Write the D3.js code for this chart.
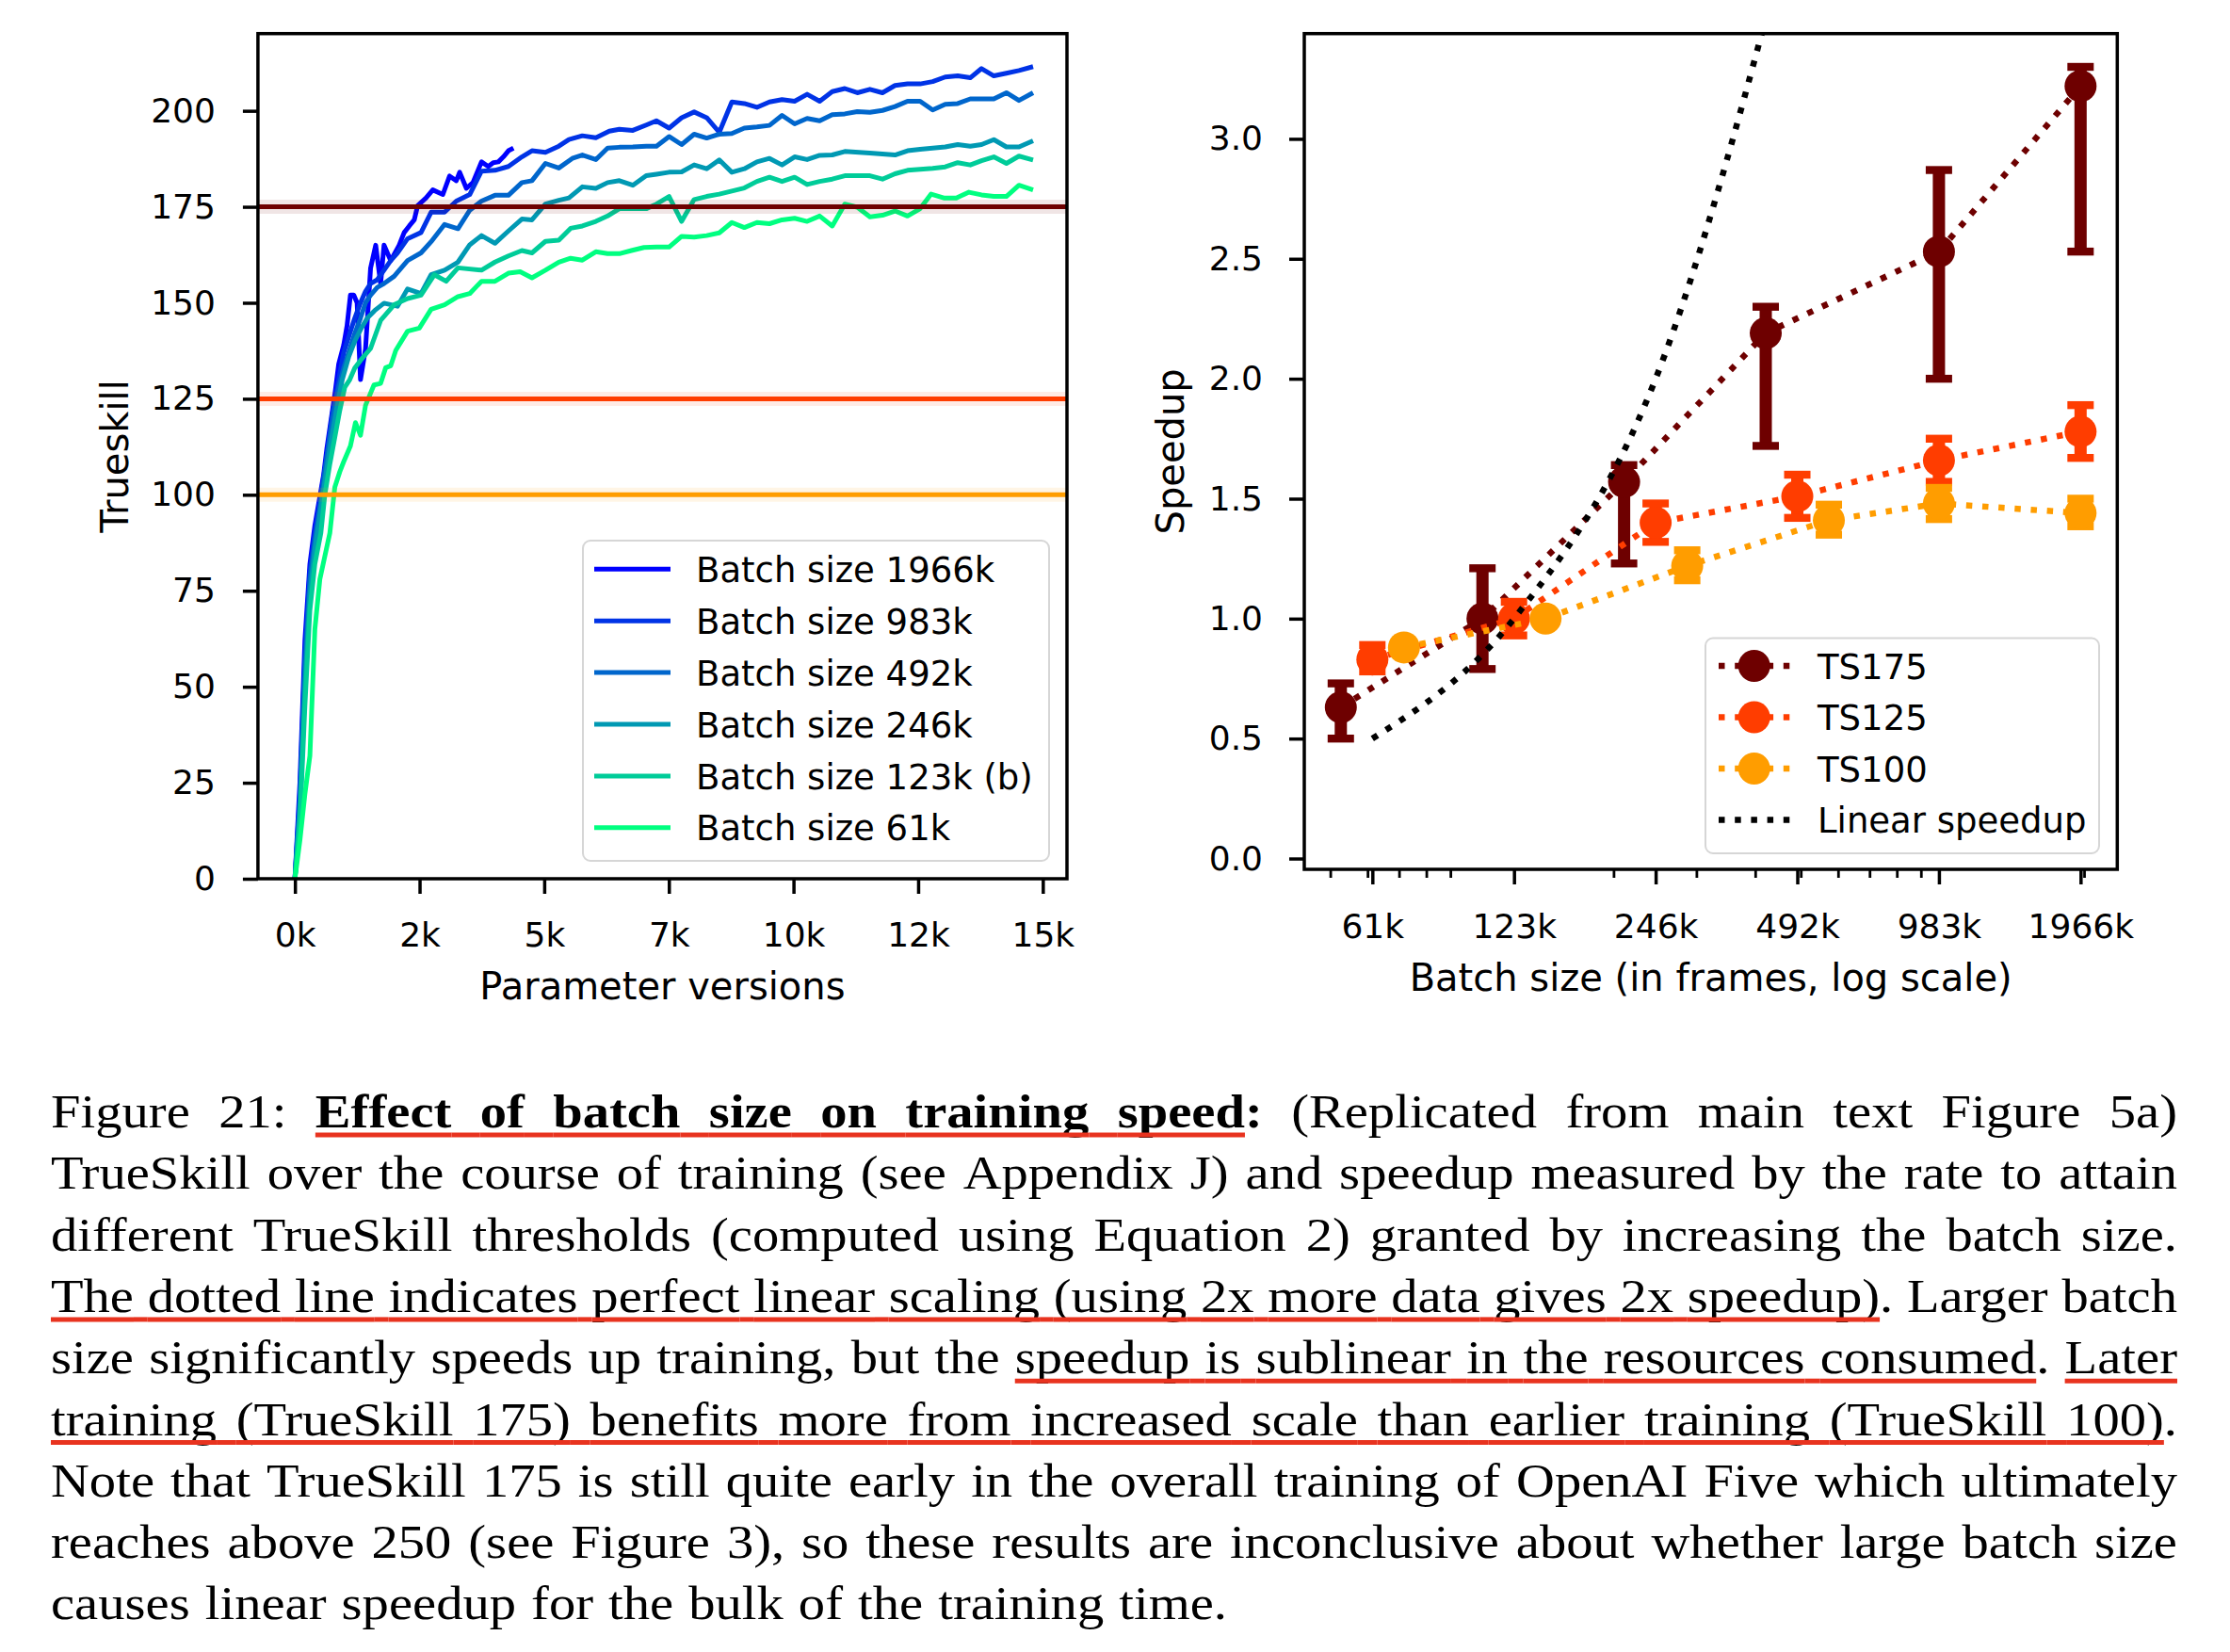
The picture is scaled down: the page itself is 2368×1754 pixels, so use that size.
<!DOCTYPE html>
<html><head><meta charset="utf-8">
<script src="https://cdn.jsdelivr.net/npm/d3@7"></script>
<style>
html,body{margin:0;padding:0;background:#fff;}
svg{display:block;}
</style></head>
<body>
<svg id="fig" width="2368" height="1754"></svg>
<script>
// ---------------- DATA ----------------
// Left panel: TrueSkill vs parameter versions, one [version, trueskill] list per batch size
const batchLabels = ["Batch size 1966k","Batch size 983k","Batch size 492k","Batch size 246k","Batch size 123k (b)","Batch size 61k"];
const batchColors = ["#0000ff","#0033e6","#0066cc","#0099b3","#00cc99","#00ff80"];
const run1966k = [[0,0],[100,25],[200,62],[300,82],[400,92],[506,100],[573,105],[640,112],[708,118],[809,127],[877,134],[978,139],[1045,144],[1113,152],[1180,152],[1247,150],[1315,130],[1416,138],[1517,159],[1620,165],[1719,155],[1787,165],[1922,161],[2090,165],[2191,168.3],[2293,170],[2394,171.6],[2461,175.3],[2630,177.3],[2765,179.4],[2967,178.2],[3102,183],[3237,181.8],[3304,184],[3439,179.8],[3574,181.4],[3742,186.7],[3877,185.5],[3978,186.5],[4080,186.7],[4181,188],[4282,189.6],[4383,190.3]];
const run983k = [[0,0],[100,22],[200,58],[300,80],[400,90],[520,100],[640,110],[750,121],[877,130],[978,137],[1100,142],[1200,146],[1315,150],[1416,153],[1517,155],[1652,156],[1787,158.5],[1922,161],[2057,163],[2259,166.7],[2529,168.3],[2731,173.6],[3001,173.6],[3237,176.5],[3506,178.2],[3742,184.3],[4012,184.5],[4282,185.5],[4552,188],[4754,189.6],[5024,189.2],[5293,190.8],[5496,192.5],[5765,193.5],[6035,193],[6305,194.7],[6507,195.2],[6777,194.9],[7046,196.3],[7249,197.4],[7505,195.5],[7756,198.2],[8007,199.7],[8259,198.2],[8511,194.4],[8763,202.3],[9014,201.9],[9266,200.9],[9518,202.3],[9770,202.9],[10022,202.5],[10273,204.3],[10525,202.5],[10777,205],[11029,205.8],[11280,204.7],[11532,205.6],[11784,204.7],[12036,206.6],[12287,207],[12539,207],[12791,207.6],[13043,208.8],[13294,209.1],[13546,208.6],[13771,211],[14018,209.1],[14270,209.8],[14522,210.5],[14805,211.5]];
const run492k = [[0,0],[100,20],[200,55],[300,78],[400,88],[540,100],[640,110],[760,120],[877,128],[978,133],[1100,138],[1200,142],[1315,146],[1416,150],[1517,152],[1652,154],[1787,155],[1989,156.9],[2259,161],[2529,163],[2731,165.9],[3001,170.4],[3270,169.3],[3506,174.1],[3742,176.5],[4012,178],[4282,178],[4552,181.3],[4754,181.8],[5024,186.3],[5293,185.1],[5563,187.6],[5765,188.5],[6035,187.3],[6271,190.3],[6507,190.5],[6777,190.6],[7046,190.8],[7252,190.8],[7504,193.3],[7756,191.2],[8007,193.9],[8259,192.9],[8511,193.9],[8763,194.1],[9014,195.5],[9266,195.8],[9518,196.2],[9770,198.8],[10022,196.6],[10273,198],[10525,197.4],[10777,199],[11029,199.2],[11280,199.8],[11532,199.6],[11784,200.1],[12036,201.1],[12287,202.5],[12539,202.5],[12791,200.2],[13043,201.7],[13294,201.9],[13546,203.1],[13771,203.1],[14018,203.1],[14270,204.7],[14522,202.7],[14805,204.7]];
const run246k = [[0,0],[100,18],[200,50],[300,74],[400,86],[560,100],[700,112],[830,122],[950,130],[1080,136],[1200,140],[1315,143],[1450,146],[1600,148],[1787,149.9],[2057,149.1],[2259,153.6],[2529,152.4],[2731,157.3],[3001,158.5],[3270,160.6],[3506,165.1],[3742,167.5],[4012,165.5],[4282,168.7],[4552,171.8],[4754,171.6],[5024,175.7],[5293,176.7],[5496,177.3],[5765,180.2],[6035,179.8],[6271,181.3],[6507,181.8],[6777,180.6],[7046,183.1],[7252,183.5],[7504,184],[7756,184.1],[8007,185.9],[8259,184.9],[8511,187.2],[8763,184],[9014,184.9],[9266,186.7],[9518,187.6],[9770,185.9],[10022,188],[10273,187.3],[10525,188.4],[10777,188.5],[11029,189.4],[11532,189],[12036,188.5],[12287,189.6],[12539,190],[13043,190.6],[13294,191.2],[13546,190.8],[13771,191.2],[14018,192.5],[14270,190.6],[14522,190.6],[14805,192.2]];
const run123k = [[0,0],[100,15],[200,45],[300,70],[400,82],[520,90],[600,100],[700,108],[800,115],[900,122],[1000,128],[1100,130],[1200,133],[1315,135],[1517,138.1],[1719,145.4],[1989,149.5],[2259,151.1],[2529,152],[2798,157.3],[3034,155.6],[3270,159.1],[3742,158.5],[4012,160.6],[4282,162.2],[4552,163.6],[4754,163],[5024,166],[5293,166.3],[5529,169.4],[5765,170],[6035,171.2],[6271,172.6],[6507,174.5],[6777,174.5],[7046,174.5],[7252,175.7],[7504,177.7],[7756,171.2],[8007,176.9],[8259,177.7],[8511,178.3],[8763,179.1],[9014,179.9],[9266,181.6],[9518,182.7],[9770,181.6],[10022,182.7],[10273,180.8],[10525,181.6],[10777,182.2],[11029,183.1],[11532,183.1],[11784,182.2],[12036,183.6],[12287,184.5],[12791,185],[13043,185.4],[13294,186.5],[13546,185.9],[13771,187],[14018,188],[14270,186.3],[14522,188.2],[14805,187.2]];
const run61k = [[0,0],[100,10],[200,22],[300,32],[400,65],[500,78],[600,84],[700,90],[800,102],[900,106],[978,108.6],[1113,112.7],[1214,118.8],[1315,115.5],[1416,123.3],[1585,128.6],[1719,129],[1821,133.1],[1922,133.6],[2023,137.6],[2259,142.6],[2495,143.4],[2731,148.3],[3001,149.5],[3270,151.6],[3506,152.4],[3742,155.6],[4012,155.6],[4282,157.7],[4518,158.1],[4754,156.5],[5024,158.5],[5293,160.6],[5529,161.6],[5765,161.1],[6035,163.3],[6271,162.8],[6507,162.8],[6749,163.6],[7000,164.4],[7252,164.5],[7504,164.5],[7756,167.3],[8007,167.1],[8259,167.5],[8511,168.2],[8763,170.9],[9014,169.6],[9266,170.9],[9518,170.6],[9770,171.6],[10022,172],[10273,171.2],[10525,172.6],[10777,170],[11029,175.7],[11280,174.9],[11532,172.4],[11784,172.8],[12036,173.9],[12287,172.6],[12539,174.5],[12760,178.3],[13014,177.3],[13266,177.3],[13518,178.8],[13771,178.1],[14018,177.7],[14270,177.7],[14522,180.6],[14805,179.4]];
const runs = [run1966k, run983k, run492k, run246k, run123k, run61k];

const trueskillTicks = [0,25,50,75,100,125,150,175,200];
const versionTicks = [0,2500,5000,7500,10000,12500,15000];
const versionTickLabels = ["0k","2k","5k","7k","10k","12k","15k"];
const thresholds = [175,125,100];

// Right panel: speedup vs batch size
const batchSizes = [61440,122880,245760,491520,983040,1966080];
const batchTickLabels = ["61k","123k","246k","492k","983k","1966k"];
const minorBatchTicks = [50000,60000,70000,80000,90000,200000,300000,400000,500000,600000,700000,800000,900000,2000000];
const speedupTicks = [0,0.5,1,1.5,2,2.5,3];
const tsNames = ["TS175","TS125","TS100"];
const tsColors = ["#6e0000","#ff3d00","#ff9d00"];
// plotted (dodged) x positions of each series
const ts175X = [52650,105300,210600,421200,983040,1966080];
const ts125X = [61440,122880,245760,491520,983040,1966080];
const ts100X = [71700,143400,286800,573600,983040,1966080];
const ts175 = [0.63,1.00,1.57,2.19,2.53,3.22];
const ts175Lo = [0.50,0.79,1.23,1.72,2.00,2.53];
const ts175Hi = [0.73,1.21,1.64,2.30,2.87,3.30];
const ts125 = [0.83,1.00,1.40,1.51,1.66,1.78];
const ts125Lo = [0.78,0.93,1.32,1.42,1.57,1.67];
const ts125Hi = [0.89,1.07,1.48,1.60,1.75,1.89];
const ts100 = [0.88,1.00,1.22,1.41,1.48,1.44];
const ts100Lo = [0.87,1.00,1.16,1.35,1.415,1.385];
const ts100Hi = [0.89,1.00,1.285,1.475,1.545,1.50];
const linearX = [61440,122880,245760,491520];
const linearY = [0.5,1,2,4];

// Caption (* toggles bold, _ toggles red underline)
const captionLines = [
 "Figure 21: *_Effect of batch size on training speed_:* (Replicated from main text Figure 5a)",
 "TrueSkill over the course of training (see Appendix J) and speedup measured by the rate to attain",
 "different TrueSkill thresholds (computed using Equation 2) granted by increasing the batch size.",
 "_The dotted line indicates perfect linear scaling (using 2x more data gives 2x speedup)_. Larger batch",
 "size significantly speeds up training, but the _speedup is sublinear in the resources consumed_. _Later",
 "training (TrueSkill 175) benefits more from increased scale than earlier training (TrueSkill 100)_.",
 "Note that TrueSkill 175 is still quite early in the overall training of OpenAI Five which ultimately",
 "reaches above 250 (see Figure 3), so these results are inconclusive about whether large batch size",
 "causes linear speedup for the bulk of the training time."
];

// ---------------- DRAW ----------------
const FONT = "DejaVu Sans";
const svg = d3.select("#fig");
svg.append("rect").attr("width",2368).attr("height",1754).attr("fill","#fff");

function styleAxis(g, fs){
  g.select(".domain").remove();
  g.selectAll(".tick line").attr("stroke","#000").attr("stroke-width",3.5);
  g.selectAll(".tick text").attr("font-family",FONT).attr("font-size",fs).attr("fill","#000");
}

// ----- Left panel -----
const LB = {left:273.9, right:1133, top:35.7, bottom:933};
const xV = d3.scaleLinear().domain([-742,15485]).range([LB.left,LB.right]);
const yT = d3.scaleLinear().domain([0,220.1]).range([LB.bottom,LB.top]);
const gL = svg.append("g");
const lineL = d3.line().x(d=>xV(d[0])).y(d=>yT(d[1]));
runs.forEach((r,i)=>{
  gL.append("path").attr("d",lineL(r)).attr("fill","none")
    .attr("stroke",batchColors[i]).attr("stroke-width",5).attr("stroke-linejoin","round");
});
thresholds.forEach((t,i)=>{
  gL.append("line").attr("x1",LB.left).attr("x2",LB.right).attr("y1",yT(t)).attr("y2",yT(t))
    .attr("stroke",tsColors[i]).attr("stroke-opacity",0.1).attr("stroke-width",15);
  gL.append("line").attr("x1",LB.left).attr("x2",LB.right).attr("y1",yT(t)).attr("y2",yT(t))
    .attr("stroke",tsColors[i]).attr("stroke-width",5);
});
// axes
const axLy = gL.append("g").attr("transform",`translate(${LB.left},0)`)
  .call(d3.axisLeft(yT).tickValues(trueskillTicks).tickSize(16).tickPadding(29));
styleAxis(axLy,36);
const axLx = gL.append("g").attr("transform",`translate(0,${LB.bottom})`)
  .call(d3.axisBottom(xV).tickValues(versionTicks).tickSize(16).tickPadding(30)
    .tickFormat((d,i)=>versionTickLabels[i]));
styleAxis(axLx,36);
gL.append("rect").attr("x",LB.left).attr("y",LB.top).attr("width",LB.right-LB.left).attr("height",LB.bottom-LB.top)
  .attr("fill","none").attr("stroke","#000").attr("stroke-width",3.5);
gL.append("text").attr("x",(LB.left+LB.right)/2).attr("y",1061).attr("text-anchor","middle")
  .attr("font-family",FONT).attr("font-size",40).text("Parameter versions");
gL.append("text").attr("transform",`translate(136,${(LB.top+LB.bottom)/2}) rotate(-90)`).attr("text-anchor","middle")
  .attr("font-family",FONT).attr("font-size",40).text("Trueskill");
// legend
const legL = gL.append("g");
legL.append("rect").attr("x",619).attr("y",574).attr("width",495).attr("height",340).attr("rx",8)
  .attr("fill","#fff").attr("fill-opacity",0.8).attr("stroke","#d6d6d6").attr("stroke-width",2);
batchLabels.forEach((lab,i)=>{
  const y = 604.3 + i*54.9;
  legL.append("line").attr("x1",631).attr("x2",712).attr("y1",y).attr("y2",y)
    .attr("stroke",batchColors[i]).attr("stroke-width",5);
  legL.append("text").attr("x",739).attr("y",y+13.6).attr("font-family",FONT).attr("font-size",37).text(lab);
});

// ----- Right panel -----
const RB = {left:1385, right:2248.3, top:35.7, bottom:923};
const xB = d3.scaleLog().domain([44030,2353000]).range([RB.left,RB.right]);
const yS = d3.scaleLinear().domain([-0.045,3.4386]).range([RB.bottom,RB.top]);
const gR = svg.append("g");
svg.append("clipPath").attr("id","clipR").append("rect")
  .attr("x",RB.left).attr("y",RB.top).attr("width",RB.right-RB.left).attr("height",RB.bottom-RB.top);
const DOT = "6.5,10.7";
const series = [
  {x:ts175X, y:ts175, lo:ts175Lo, hi:ts175Hi},
  {x:ts125X, y:ts125, lo:ts125Lo, hi:ts125Hi},
  {x:ts100X, y:ts100, lo:ts100Lo, hi:ts100Hi}
];
const lineR = d3.line().x(d=>xB(d[0])).y(d=>yS(d[1]));
series.forEach((s,k)=>{
  const c = tsColors[k];
  const pts = s.x.map((xx,i)=>[xx,s.y[i]]);
  gR.append("path").attr("d",lineR(pts)).attr("fill","none").attr("stroke",c)
    .attr("stroke-width",6.5).attr("stroke-dasharray",DOT);
  s.x.forEach((xx,i)=>{
    const px = xB(xx);
    gR.append("line").attr("x1",px).attr("x2",px).attr("y1",yS(s.lo[i])).attr("y2",yS(s.hi[i]))
      .attr("stroke",c).attr("stroke-width",13);
    [s.lo[i],s.hi[i]].forEach(v=>{
      gR.append("rect").attr("x",px-14).attr("y",yS(v)-4.2).attr("width",28).attr("height",8.4).attr("fill",c);
    });
  });
  s.x.forEach((xx,i)=>{
    gR.append("circle").attr("cx",xB(xx)).attr("cy",yS(s.y[i])).attr("r",17).attr("fill",c);
  });
});
gR.append("path").attr("clip-path","url(#clipR)")
  .attr("d",d3.line().x(d=>xB(d[0])).y(d=>yS(d[1])).curve(d3.curveMonotoneX)(linearX.map((x,i)=>[x,linearY[i]])))
  .attr("fill","none").attr("stroke","#000").attr("stroke-width",6.5).attr("stroke-dasharray",DOT);
// axes
const axRy = gR.append("g").attr("transform",`translate(${RB.left},0)`)
  .call(d3.axisLeft(yS).tickValues(speedupTicks).tickSize(16).tickPadding(28).tickFormat(d3.format(".1f")));
styleAxis(axRy,36);
const axRxm = gR.append("g").attr("transform",`translate(0,${RB.bottom})`)
  .call(d3.axisBottom(xB).tickValues(minorBatchTicks).tickSize(9).tickFormat(""));
styleAxis(axRxm,36);
axRxm.selectAll(".tick line").attr("stroke-width",2.8);
const axRx = gR.append("g").attr("transform",`translate(0,${RB.bottom})`)
  .call(d3.axisBottom(xB).tickValues(batchSizes).tickSize(16).tickPadding(31).tickFormat((d,i)=>batchTickLabels[i]));
styleAxis(axRx,36);
gR.append("rect").attr("x",RB.left).attr("y",RB.top).attr("width",RB.right-RB.left).attr("height",RB.bottom-RB.top)
  .attr("fill","none").attr("stroke","#000").attr("stroke-width",3.5);
gR.append("text").attr("x",(RB.left+RB.right)/2).attr("y",1052).attr("text-anchor","middle")
  .attr("font-family",FONT).attr("font-size",40).text("Batch size (in frames, log scale)");
gR.append("text").attr("transform",`translate(1257,${(RB.top+RB.bottom)/2}) rotate(-90)`).attr("text-anchor","middle")
  .attr("font-family",FONT).attr("font-size",40).text("Speedup");
// legend
const legR = gR.append("g");
legR.append("rect").attr("x",1811).attr("y",677.5).attr("width",418).attr("height",228.5).attr("rx",8)
  .attr("fill","#fff").attr("fill-opacity",0.8).attr("stroke","#d6d6d6").attr("stroke-width",2);
const legNames = tsNames.concat(["Linear speedup"]);
const legColors = tsColors.concat(["#000"]);
legNames.forEach((n,i)=>{
  const y = 707 + i*54.5;
  legR.append("line").attr("x1",1825).attr("x2",1901).attr("y1",y).attr("y2",y)
    .attr("stroke",legColors[i]).attr("stroke-width",6.5).attr("stroke-dasharray",DOT);
  if(i<3) legR.append("circle").attr("cx",1862.7).attr("cy",y).attr("r",17).attr("fill",legColors[i]);
  legR.append("text").attr("x",1930).attr("y",y+13.6).attr("font-family",FONT).attr("font-size",37).text(n);
});

// ----- Caption -----
const CAP = {x0:54, x1:2312, base0:1197, lead:65.3, lastWidth:1249, fs:50, ul:"#e8331f", space:16};
const gC = svg.append("g").attr("font-family","Liberation Serif").attr("font-size",CAP.fs).attr("fill","#000");
let bold=false, und=false;
const lines = captionLines.map((line,li)=>{
  const y = CAP.base0 + li*CAP.lead;
  const words = line.split(" ").map(w=>{
    const pieces=[]; let cur=null;
    for(const ch of w){
      if(ch==="*"){bold=!bold;cur=null;continue;}
      if(ch==="_"){und=!und;cur=null;continue;}
      if(!cur){cur={t:"",b:bold,u:und};pieces.push(cur);}
      cur.t+=ch;
    }
    return {pieces, ulAfter:und};
  });
  words.forEach(w=>{
    w.el = gC.append("text");
    w.pieces.forEach(p=>{
      p.el = w.el.append("tspan").attr("font-weight",p.b?"bold":"normal").text(p.t);
      p.w = p.el.node().getComputedTextLength();
    });
    w.w = d3.sum(w.pieces,p=>p.w);
  });
  return {y, words};
});
// horizontal stretch so that the last (unjustified) line has natural interword spacing
const lastL = lines[lines.length-1];
let sx = (CAP.lastWidth - CAP.space*(lastL.words.length-1)) / d3.sum(lastL.words,w=>w.w);
sx = Math.max(1, Math.min(1.2, sx));
lines.forEach((L,li)=>{
  const y = L.y, words = L.words;
  const target = li===lines.length-1 ? CAP.lastWidth : (CAP.x1-CAP.x0);
  const gap = (target - sx*d3.sum(words,w=>w.w))/(words.length-1);
  let x = CAP.x0;
  words.forEach((w,wi)=>{
    w.el.attr("transform",`translate(${x},${y}) scale(${sx},1)`);
    let px = x;
    w.pieces.forEach(p=>{
      if(p.u) gC.append("line").attr("x1",px).attr("x2",px+p.w*sx).attr("y1",y+8).attr("y2",y+8)
        .attr("stroke",CAP.ul).attr("stroke-width",5);
      px += p.w*sx;
    });
    if(w.ulAfter && wi<words.length-1)
      gC.append("line").attr("x1",px).attr("x2",px+gap).attr("y1",y+8).attr("y2",y+8)
        .attr("stroke",CAP.ul).attr("stroke-width",5);
    x += w.w*sx + gap;
  });
});
</script>
</body></html>
